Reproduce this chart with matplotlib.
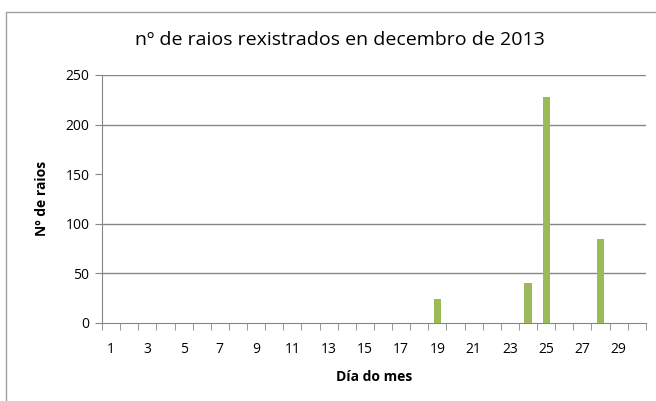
import matplotlib.pyplot as plt
from matplotlib.patches import Rectangle

# datos: raios por día en decembro de 2013
dias = list(range(1, 31))
raios = [0] * 30
raios[19 - 1] = 24
raios[24 - 1] = 40
raios[25 - 1] = 228
raios[28 - 1] = 85

etiquetas_x = [str(d) for d in range(1, 31, 2)]
ticks_y = [0, 50, 100, 150, 200, 250]
grella_y = [50, 100, 200, 250]

plt.rcParams['font.family'] = ['Open Sans', 'DejaVu Sans']

fig = plt.figure(figsize=(6.56, 4.01), dpi=100)
ax = fig.add_axes([0.1555, 0.195, 0.829, 0.618])

# marco do gráfico
fig.patches.append(Rectangle((6 / 656, -0.01), 1.0, 1 - 12 / 401 + 0.01,
                             transform=fig.transFigure, fill=False,
                             edgecolor='#a0a0a0', linewidth=1))

ax.bar(dias, raios, width=0.4, color='#9BBB59', zorder=3)

for g in grella_y:
    ax.axhline(g, color='#868686', linewidth=1, zorder=1)

ax.set_xlim(0.5, 30.5)
ax.set_ylim(0, 250)
ax.set_yticks(ticks_y)
ax.set_xticks(range(1, 31, 2))
ax.set_xticklabels(etiquetas_x)
ax.set_xticks([d + 0.5 for d in range(0, 31)], minor=True)
ax.tick_params(axis='x', which='major', length=0, pad=14, labelsize=10)
ax.tick_params(axis='x', which='minor', length=5, color='#868686', direction='out')
ax.tick_params(axis='y', length=5, color='#868686', labelsize=10, pad=4)

for s in ['top', 'right']:
    ax.spines[s].set_visible(False)
for s in ['left', 'bottom']:
    ax.spines[s].set_color('#868686')

fig.text(340 / 656, 1 - 40 / 401, 'nº de raios rexistrados en decembro de 2013',
         fontsize=14, ha='center', va='center')
ax.set_xlabel('Día do mes', fontsize=10, fontweight='bold', labelpad=9)
ax.set_ylabel('Nº de raios', fontsize=10, fontweight='bold', labelpad=12)

fig.savefig('out.png', dpi=100)
